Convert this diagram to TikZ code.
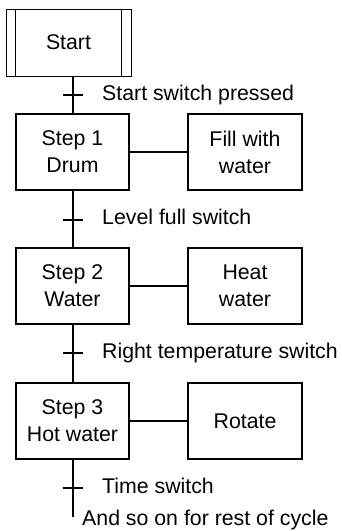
\documentclass[tikz,border=0pt]{standalone}
\usepackage{fontspec}
\setmainfont{Liberation Sans}
\usetikzlibrary{calc}

\newcommand{\chartfont}{\fontsize{21.3}{27}\selectfont}

\begin{document}
\begin{tikzpicture}[
  x=1pt, y=-1pt,
  box/.style={draw, line width=2pt, minimum width=113pt, minimum height=76pt,
    inner sep=2pt, align=center, font=\chartfont},
  initbox/.style={draw, line width=1pt, minimum width=125pt, minimum height=67pt,
    inner sep=2pt, font=\chartfont},
  link/.style={line width=2pt},
  tick/.style={line width=2pt},
  cond/.style={anchor=base west, inner sep=0pt, font=\chartfont},
]

% ══════════════════════════════════════════════════════
% Frame
% ══════════════════════════════════════════════════════
\useasboundingbox (0,0) rectangle (341,531);

% ══════════════════════════════════════════════════════
% Initial step
% ══════════════════════════════════════════════════════
\node[initbox] (start) at (68.5,42.5) {Start};
\draw[line width=1pt] ([xshift=9.7pt]start.north west) -- ([xshift=9.7pt]start.south west);
\draw[line width=1pt] ([xshift=-10pt]start.north east) -- ([xshift=-10pt]start.south east);

% ══════════════════════════════════════════════════════
% Steps (left) and actions (right)
% ══════════════════════════════════════════════════════
\node[box] (s1) at (72.5,152)   {Step 1\\Drum};
\node[box] (s2) at (72.5,285.5) {Step 2\\Water};
\node[box] (s3) at (72.5,421)   {Step 3\\Hot water};

\node[box, minimum width=114pt] (act1) at (245,152)   {Fill with\\water};
\node[box, minimum width=114pt] (act2) at (245,285.5) {Heat\\water};
\node[box, minimum width=114pt] (act3) at (245,421)   {Rotate};

\draw[link] (s1) -- (act1);
\draw[link] (s2) -- (act2);
\draw[link] (s3) -- (act3);

% ══════════════════════════════════════════════════════
% Flow line
% ══════════════════════════════════════════════════════
\coordinate (endpt) at (72.5,517);

\draw[link] (s1.north |- start.south) -- (s1.north);
\draw[link] (s1) -- (s2);
\draw[link] (s2) -- (s3);
\draw[link] (s3) -- (endpt);

% ══════════════════════════════════════════════════════
% Transitions: tick + condition
% ══════════════════════════════════════════════════════
\coordinate (t1) at (72.5,95);
\coordinate (t2) at (72.5,220);
\coordinate (t3) at (72.5,353);
\coordinate (t4) at (72.5,488);

\foreach \t in {t1,t2,t3,t4}
  \draw[tick] ($(\t)+(-10,0)$) -- ($(\t)+(10,0)$);

\node[cond] (c1) at ($(t1)+(29.5,5)$) {Start switch pressed};
\node[cond] (c2) at ($(t2)+(29.5,4)$) {Level full switch};
\node[cond] (c3) at ($(t3)+(29.5,5.5)$) {Right temperature switch};
\node[cond] (c4) at ($(t4)+(29.5,5)$) {Time switch};

\node[cond] (c5) at (82,525) {And so on for rest of cycle};

\end{tikzpicture}
\end{document}
